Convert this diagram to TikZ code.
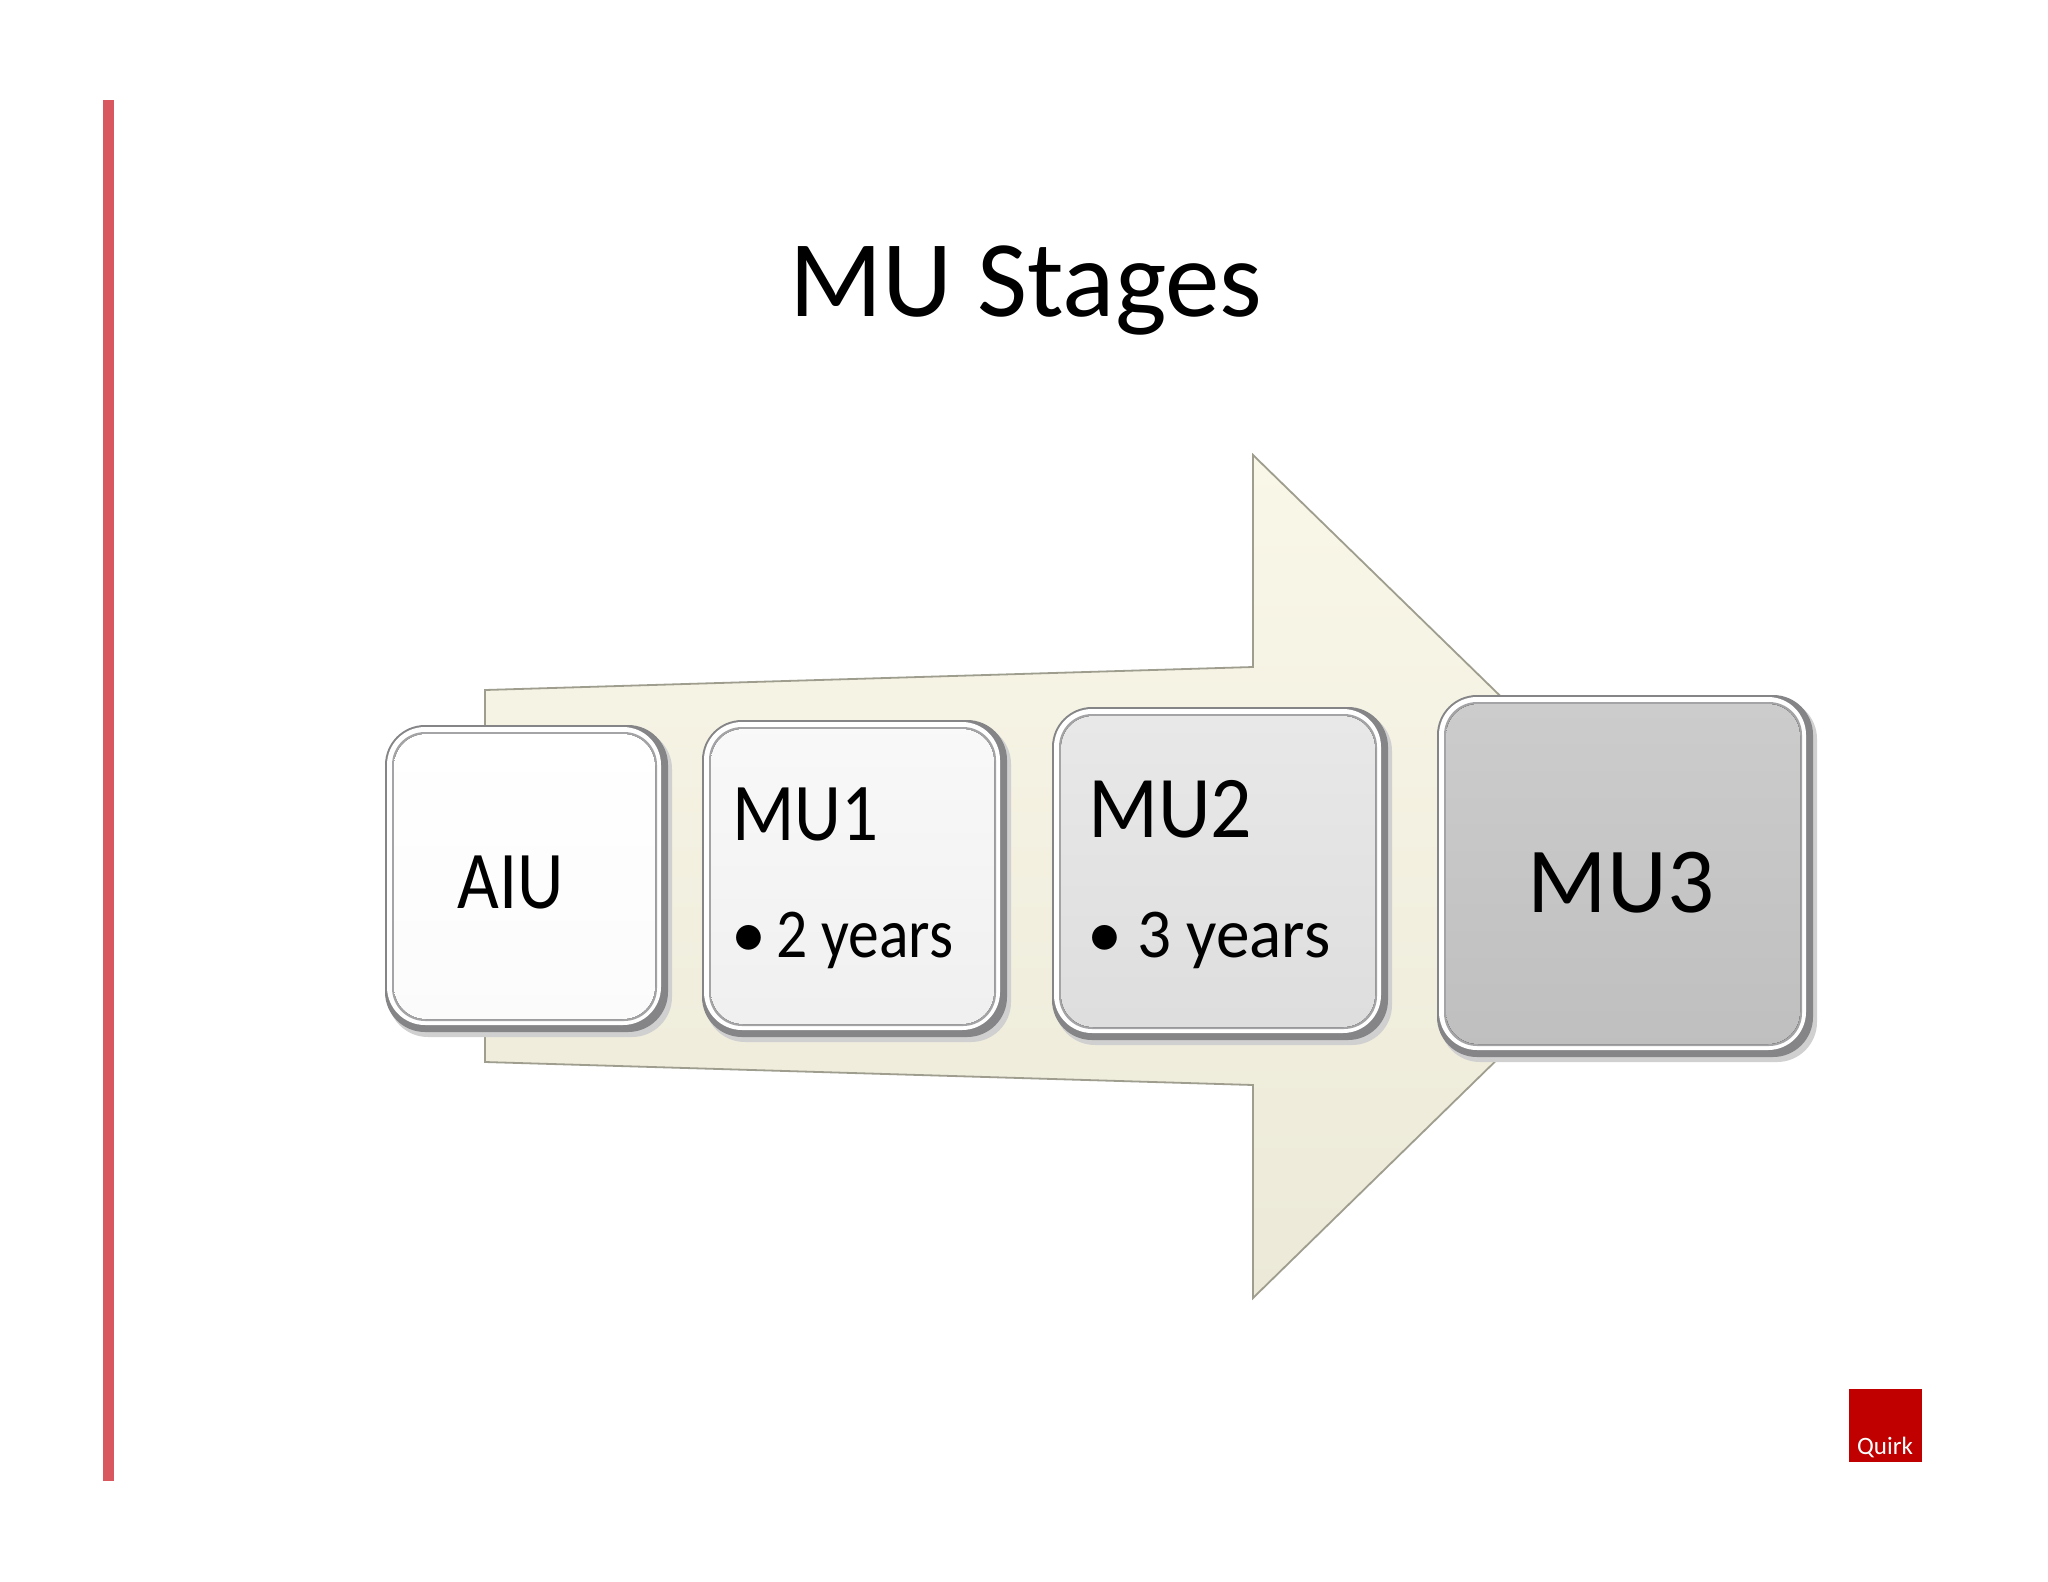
\documentclass[tikz,border=0pt]{standalone}
\usepackage{fontspec}
\setmainfont{Carlito}
\definecolor{barred}{HTML}{D9575E}
\definecolor{quirkred}{HTML}{C00000}
\definecolor{arrtop}{HTML}{F9F7E8}
\definecolor{arrbot}{HTML}{ECE9D8}
\definecolor{arredge}{HTML}{9E9D8E}
\definecolor{rimdark}{HTML}{858588}
\definecolor{rimmid}{HTML}{A4A4A6}
\definecolor{shadowc}{HTML}{D0D0D0}
\newcommand\bevelbox[6]{%
  \fill[shadowc,rounded corners=40pt] (#1+3,#2+4) rectangle (#3+4,#4+5);
  \fill[rimdark,rounded corners=40pt] (#1,#2) rectangle (#3,#4);
  \fill[white,rounded corners=38pt] (#1+2,#2+2) rectangle (#3-7,#4-7);
  \fill[rimmid,rounded corners=33pt] (#1+7,#2+7) rectangle (#3-11,#4-11);
  \fill[top color=#5,bottom color=#6,rounded corners=32pt] (#1+9,#2+9) rectangle (#3-13,#4-13);
}
\tikzset{
  txt/.style={inner sep=0pt, text=black},
  arrowshape/.style={top color=arrtop, bottom color=arrbot, draw=arredge, line width=1.8pt, line join=miter},
}
\begin{document}
\begin{tikzpicture}[x=1pt,y=-1pt]
\useasboundingbox (0,0) rectangle (2048,1582);
\fill[white] (0,0) rectangle (2048,1582);
% side bar
\fill[barred] (103,100) rectangle (114,1481);
% title
\node[txt, anchor=base] (title) at (1026,316) {\fontsize{109}{120}\selectfont MU Stages};
% big arrow
\draw[arrowshape] (485,690) -- (1253,667) -- (1253,455) -- (1685,876) -- (1253,1298) -- (1253,1085) -- (485,1062) -- cycle;
% boxes
\bevelbox{385}{725}{668}{1032}{white}{white!97!gray}
\bevelbox{702}{720}{1007}{1037}{white!95!gray}{white!88!gray}
\bevelbox{1052}{707}{1388}{1040}{white!82!gray}{white!74!gray}
\bevelbox{1437}{695}{1813}{1057}{white!60!gray}{white!50!gray}
% texts
\node[txt, anchor=base] (aiu) at (511,908) {\fontsize{82}{90}\selectfont\scalebox{0.88}[1]{AIU}};
\node[txt, anchor=base west] (mu1) at (732,840) {\fontsize{82}{90}\selectfont\scalebox{0.89}[1]{MU1}};
\node[txt, anchor=base west] (mu1b) at (731,957) {\fontsize{70}{80}\selectfont •};
\node[txt, anchor=base west] (mu1y) at (776,957) {\fontsize{70}{80}\selectfont\scalebox{0.88}[1]{2 years}};
\node[txt, anchor=base west] (mu2) at (1088,837) {\fontsize{88}{96}\selectfont\scalebox{0.93}[1]{MU2}};
\node[txt, anchor=base west] (mu2b) at (1087,957) {\fontsize{70}{80}\selectfont •};
\node[txt, anchor=base west] (mu2y) at (1137,957) {\fontsize{70}{80}\selectfont\scalebox{0.96}[1]{3 years}};
\node[txt, anchor=base] (mu3) at (1621,912) {\fontsize{93}{100}\selectfont MU3};
% logo
\fill[quirkred] (1849,1389) rectangle (1922,1462);
\node[txt, text=white, anchor=base] (quirk) at (1885,1454) {\fontsize{25}{28}\selectfont Quirk};
\end{tikzpicture}
\end{document}
